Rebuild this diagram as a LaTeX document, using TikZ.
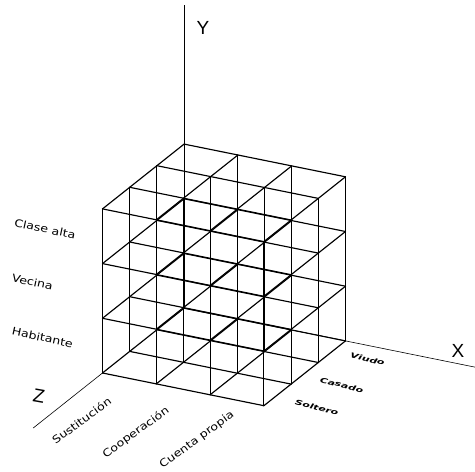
\documentclass[tikz,border=0pt]{standalone}
\usepackage{fontspec}
\setmainfont{Liberation Sans}
\newfontfamily\plotfont[FakeStretch=1.2]{DejaVu Sans}
\newfontfamily\smallplot[FakeStretch=1.55]{DejaVu Sans}
\begin{document}
\begin{tikzpicture}[x=1pt,y=1pt,
  gridline/.style={line width=1.15pt,black,line cap=round},
  axisline/.style={line width=0.6pt,black},
  axislbl/.style={font=\fontsize{19}{19}\selectfont,inner sep=0pt},
  lbl/.style={font=\plotfont\fontsize{10.5}{12}\selectfont,inner sep=0pt},
  slbl/.style={font=\smallplot\bfseries\itshape\fontsize{7}{9}\selectfont,inner sep=0pt}]
\useasboundingbox (0,0) rectangle (475,472);
\begin{scope}[shift={(102.5pt,99pt)},x={(53.8pt,-10.9pt)},y={(0pt,54.7pt)},z={(27.2pt,21.6pt)}]
  \foreach \a in {0,...,3}{
    \foreach \b in {0,...,3}{
      \draw[gridline] (\a,0,\b) -- (\a,3,\b);
      \draw[gridline] (0,\a,\b) -- (3,\a,\b);
      \draw[gridline] (\a,\b,0) -- (\a,\b,3);
    }
  }
  \coordinate (O) at (0,0,3);
  \coordinate (F) at (0,0,0);
  \coordinate (yend) at (0,5.54,3);
  \coordinate (xend) at (5.41,0,3);
  \coordinate (zend) at (0,0,-2.55);
\end{scope}
\draw[axisline] (O) -- (yend);
\draw[axisline] (O) -- (xend);
\draw[axisline] (F) -- (zend);
\node[axislbl] (ylab) at (203,444) {Y};
\node[axislbl] (xlab) at (458,121) {X};
\node[axislbl,rotate=-10] (zlab) at (39,76) {Z};
\node[lbl,rotate=-12] (l1) at (45,243) {Clase alta};
\node[lbl,rotate=-12] (l2) at (32.5,190) {Vecina};
\node[lbl,rotate=-12] (l3) at (42.5,134.5) {Habitante};
\node[lbl,rotate=36] (b1) at (81.5,51.5) {Sustitución};
\node[lbl,rotate=36] (b2) at (136,39.5) {Cooperación};
\node[lbl,rotate=36] (b3) at (197,32) {Cuenta propia};
\node[slbl,rotate=-14] (r1) at (367.5,113) {Viudo};
\node[slbl,rotate=-14] (r2) at (341.7,87) {Casado};
\node[slbl,rotate=-14] (r3) at (316.7,64.5) {Soltero};
\end{tikzpicture}
\end{document}
